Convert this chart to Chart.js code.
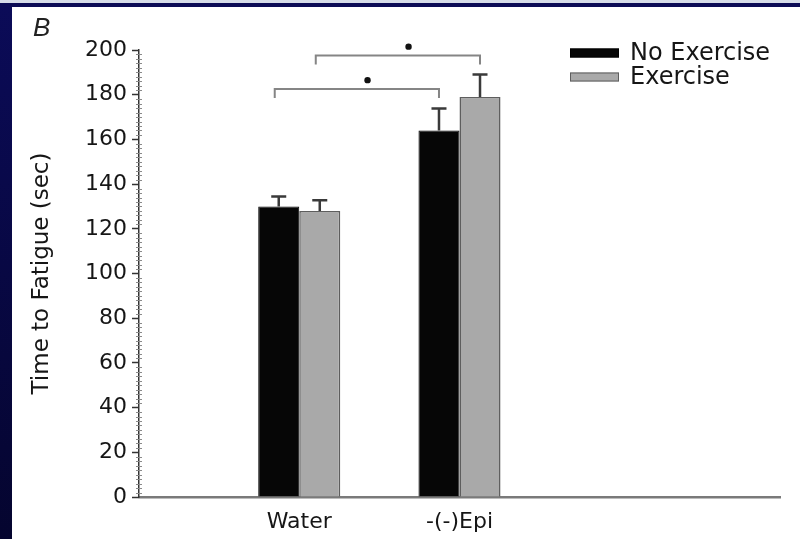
<!DOCTYPE html>
<html><head><meta charset="utf-8">
<script src="https://cdn.jsdelivr.net/npm/chart.js@4/dist/chart.umd.min.js"></script>
<style>html,body{margin:0;padding:0;background:#fff;overflow:hidden}#wrap{position:relative;width:800px;height:539px}canvas{display:block}</style>
</head><body><div id="wrap"><canvas id="c" width="800" height="539"></canvas></div>
<script>
// ---- data ----
const categories = ['Water', '-(-)Epi'];
const seriesNames = ['No Exercise', 'Exercise'];
const noExercise = [130, 164];
const exercise = [128, 179];
const noExerciseErr = [4.5, 9.8];
const exerciseErr = [4.8, 10];
const yTicks = [0, 20, 40, 60, 80, 100, 120, 140, 160, 180, 200];
const yTitle = 'Time to Fatigue (sec)';
const panelLabel = 'B';
// significance brackets: series compared across the two categories, bracket level (data units)
const bracketSeries = [0, 1];
const bracketLevels = [182.5, 197.5];

// axis is padded with empty slots so the groups sit where the reference has them
const paddedLabels = ['', ...categories, '', ''];
const pad = arr => [null, ...arr, null, null];

const FONT = 'DejaVu Sans';
const TEXT = '#161616';

const framePlugin = {
  id: 'frame',
  beforeDraw(chart) {
    const {ctx, width, height} = chart;
    ctx.save();
    ctx.fillStyle = '#ffffff';
    ctx.fillRect(0, 0, width, height);
    const g = ctx.createLinearGradient(0, 0, 0, height);
    g.addColorStop(0, '#0b0b58');
    g.addColorStop(1, '#05052f');
    ctx.fillStyle = g;
    ctx.fillRect(0, 0, 12, height);
    ctx.fillStyle = '#0b0b55';
    ctx.fillRect(0, 3, width, 4);
    ctx.fillStyle = '#d6dce8';
    ctx.fillRect(0, 0, width, 3);
    // panel label
    ctx.fillStyle = '#222';
    ctx.font = 'italic 26px "Liberation Sans"';
    ctx.textBaseline = 'alphabetic';
    ctx.textAlign = 'left';
    ctx.fillText(panelLabel, 33, 36);
    ctx.restore();
  }
};

const minorTickPlugin = {
  id: 'minorTicks',
  afterDraw(chart) {
    const {ctx, chartArea} = chart;
    const y = chart.scales.y;
    ctx.save();
    ctx.strokeStyle = '#8a8a8a';
    ctx.lineWidth = 1;
    ctx.beginPath();
    for (let v = y.min; v <= y.max; v += 2) {
      if (yTicks.includes(v)) continue;
      const py = Math.round(y.getPixelForValue(v)) + 0.5;
      ctx.moveTo(chartArea.left - 3, py);
      ctx.lineTo(chartArea.left + 3, py);
    }
    ctx.stroke();
    ctx.restore();
  }
};

const errorPlugin = {
  id: 'errorBars',
  afterDatasetsDraw(chart) {
    const {ctx} = chart;
    const y = chart.scales.y;
    ctx.save();
    ctx.strokeStyle = '#3a3a3a';
    ctx.lineWidth = 2.5;
    chart.data.datasets.forEach((ds, di) => {
      const meta = chart.getDatasetMeta(di);
      meta.data.forEach((bar, i) => {
        const v = ds.data[i], e = ds.errors[i];
        if (v == null || e == null) return;
        const top = y.getPixelForValue(v + e);
        ctx.beginPath();
        ctx.moveTo(bar.x, bar.y);
        ctx.lineTo(bar.x, top);
        ctx.moveTo(bar.x - 7.5, top);
        ctx.lineTo(bar.x + 7.5, top);
        ctx.stroke();
      });
    });
    ctx.restore();
  }
};

const bracketPlugin = {
  id: 'brackets',
  afterDatasetsDraw(chart) {
    const {ctx} = chart;
    const y = chart.scales.y;
    ctx.save();
    bracketSeries.forEach((s, k) => {
      const meta = chart.getDatasetMeta(s);
      const x1 = meta.data[1].x - 4, x2 = meta.data[2].x;
      const lvl = bracketLevels[k];
      const py = y.getPixelForValue(lvl);
      const leg = y.getPixelForValue(lvl - 4);
      ctx.strokeStyle = '#858585';
      ctx.lineWidth = 2;
      ctx.beginPath();
      ctx.moveTo(x1, leg);
      ctx.lineTo(x1, py);
      ctx.lineTo(x2, py);
      ctx.lineTo(x2, leg);
      ctx.stroke();
      const sx = x1 + 0.565 * (x2 - x1);
      const sy = y.getPixelForValue(lvl + 4);
      ctx.fillStyle = '#111';
      ctx.beginPath();
      ctx.arc(sx, sy, 3.2, 0, Math.PI * 2);
      ctx.fill();
    });
    ctx.restore();
  }
};

const legendPlugin = {
  id: 'customLegend',
  afterDraw(chart) {
    const {ctx, chartArea} = chart;
    ctx.save();
    const sx = chartArea.right - 210;
    chart.data.datasets.forEach((ds, i) => {
      const cy = chartArea.top + 3 + i * 24;
      ctx.fillStyle = ds.backgroundColor;
      ctx.fillRect(sx, cy - 4.5, 49, 9);
      ctx.strokeStyle = ds.borderColor;
      ctx.lineWidth = 1;
      ctx.strokeRect(sx + 0.5, cy - 4, 48, 8);
      ctx.fillStyle = TEXT;
      ctx.font = '24px "' + FONT + '"';
      ctx.textAlign = 'left';
      ctx.textBaseline = 'middle';
      ctx.fillText(ds.label, sx + 60, cy + 1);
    });
    ctx.restore();
  }
};

new Chart(document.getElementById('c'), {
  type: 'bar',
  data: {
    labels: paddedLabels,
    datasets: [
      { label: seriesNames[0], data: pad(noExercise), errors: pad(noExerciseErr),
        backgroundColor: '#060606', borderColor: '#000000', borderWidth: 1 },
      { label: seriesNames[1], data: pad(exercise), errors: pad(exerciseErr),
        backgroundColor: '#a9a9a9', borderColor: '#5e5e5e', borderWidth: 1.5 }
    ]
  },
  options: {
    responsive: false,
    animation: false,
    barPercentage: 1,
    categoryPercentage: 0.512,
    layout: { padding: { left: 0, right: 20, top: 50, bottom: 0 } },
    plugins: { legend: { display: false }, tooltip: { enabled: false } },
    scales: {
      x: {
        type: 'category',
        offset: false,
        grid: { display: true, drawOnChartArea: false, drawTicks: false },
        border: { display: true, color: '#7a7a7a', width: 2.5 },
        ticks: { padding: 12, color: TEXT, autoSkip: false, maxRotation: 0,
                 font: { family: FONT, size: 22 } },
        afterFit: s => { s.height = 42; }
      },
      y: {
        min: 0, max: 200,
        afterBuildTicks: s => { s.ticks = yTicks.map(v => ({ value: v })); },
        grid: { drawOnChartArea: false, drawTicks: true, tickLength: 7, tickColor: '#333', tickWidth: 1.5 },
        border: { display: true, color: '#333', width: 1.5 },
        ticks: { padding: 5, color: TEXT, font: { family: FONT, size: 22 } },
        title: { display: true, text: yTitle, color: TEXT,
                 font: { family: FONT, size: 23 }, padding: { top: 28, bottom: 0 } },
        afterFit: s => { s.width = 139; }
      }
    }
  },
  plugins: [framePlugin, minorTickPlugin, errorPlugin, bracketPlugin, legendPlugin]
});
</script>
</body></html>
